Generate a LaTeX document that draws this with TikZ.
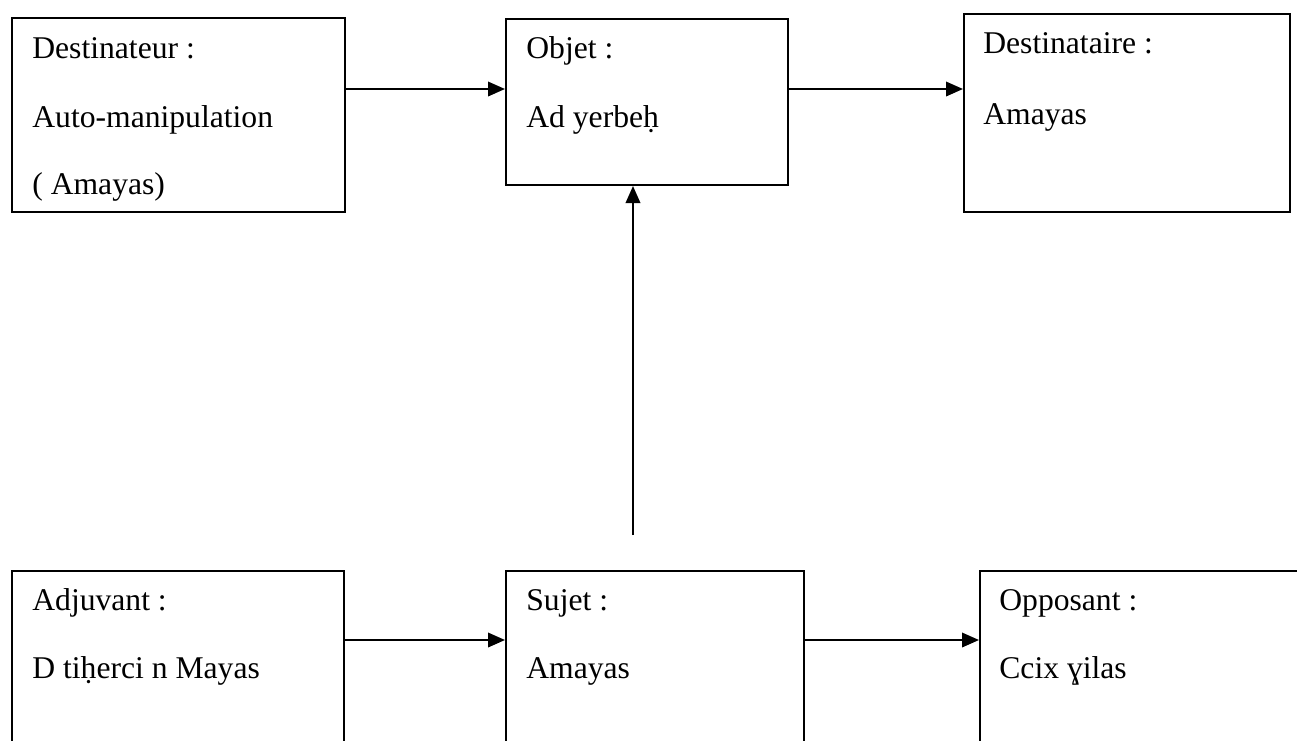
\documentclass[tikz,border=0pt]{standalone}
\usepackage{fontspec}
\setmainfont{Liberation Serif}
\usetikzlibrary{arrows.meta}

\begin{document}
\begin{tikzpicture}[x=0.2mm, y=-0.2mm,
            box/.style={shape=rectangle, draw, line width=0.4mm, inner sep=0pt, anchor=north west},
            txt/.style={anchor=base west, inner sep=0pt, font=\fontsize{18}{21}\selectfont},
            arr/.style={line width=0.4mm, -{Triangle[length=3.4mm,width=2.9mm]}}]
        \useasboundingbox (0,0) rectangle (1297,741);
        \clip (0,0) rectangle (1297,741);

        % boxes
        \node (dtr) [box, minimum width=66.6mm, minimum height=38.8mm] at (11,17) {};
        \node (obj) [box, minimum width=56.4mm, minimum height=33.2mm] at (505,18) {};
        \node (dta) [box, minimum width=65.2mm, minimum height=39.6mm] at (963,13) {};
        \node (adj) [box, minimum width=66.4mm, minimum height=40mm] at (11,570) {};
        \node (suj) [box, minimum width=59.6mm, minimum height=40mm] at (505,570) {};
        \node (opp) [box, minimum width=68.2mm, minimum height=40mm] at (979,570) {};

        % texts
        \node (dtr1) [txt] at (32,58) {Destinateur :};
        \node (dtr2) [txt] at (32,127) {Auto-manipulation};
        \node (dtr3) [txt] at (32,194) {( Amayas)};
        \node (obj1) [txt] at (526,58) {Objet :};
        \node (obj2) [txt] at (526,127) {Ad yerbeḥ};
        \node (dta1) [txt] at (983,53) {Destinataire :};
        \node (dta2) [txt] at (983,124) {Amayas};
        \node (adj1) [txt] at (32,610) {Adjuvant :};
        \node (adj2) [txt] at (32,678) {D tiḥerci n Mayas};
        \node (suj1) [txt] at (526,610) {Sujet :};
        \node (suj2) [txt] at (526,678) {Amayas};
        \node (opp1) [txt] at (999,610) {Opposant :};
        \node (opp2) [txt] at (999,678) {Ccix ɣilas};

        % arrows
        \coordinate (ytop) at (0,89);
        \coordinate (ybot) at (0,640);
        \coordinate (vstart) at (633,535);
        \draw[arr] (dtr.east |- ytop) -- (obj.west |- ytop);
        \draw[arr] (obj.east |- ytop) -- (dta.west |- ytop);
        \draw[arr] (adj.east |- ybot) -- (suj.west |- ybot);
        \draw[arr] (suj.east |- ybot) -- (opp.west |- ybot);
        \draw[arr] (vstart) -- (vstart |- obj.south);
    \end{tikzpicture}
\end{document}
